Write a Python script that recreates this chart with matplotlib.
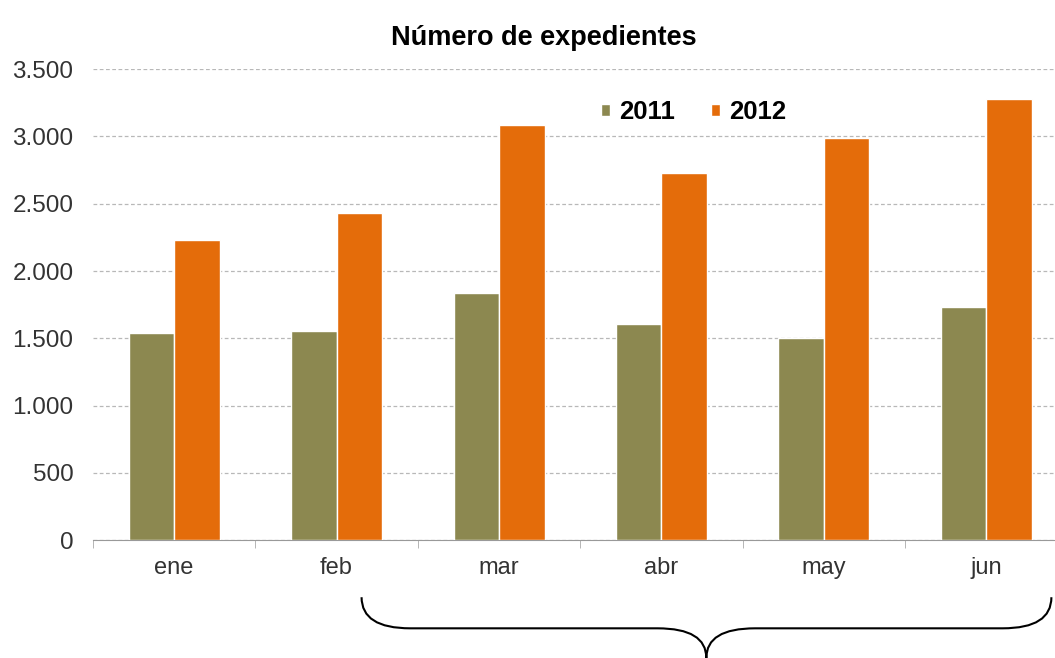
import matplotlib
matplotlib.use("Agg")
import matplotlib.pyplot as plt
import numpy as np
from matplotlib.path import Path
from matplotlib.patches import PathPatch
from matplotlib.transforms import blended_transform_factory
from matplotlib.ticker import FuncFormatter

meses = ["ene", "feb", "mar", "abr", "may", "jun"]
exp_2011 = [1540, 1555, 1835, 1605, 1500, 1730]
exp_2012 = [2230, 2430, 3085, 2730, 2990, 3280]

col_2011 = "#8C8850"
col_2012 = "#E46C0A"

plt.rcParams["font.family"] = ["Liberation Sans", "DejaVu Sans"]

fig = plt.figure(figsize=(10.55, 6.58), dpi=100)
# the original chart is cut off at the right edge, so the axes run past the figure
ax = fig.add_axes([0.088, 0.179, 0.924, 0.716])

x = np.arange(len(meses))
w = 0.28
ax.bar(x - w / 2, exp_2011, w, color=col_2011, edgecolor="white", linewidth=1.0, label="2011", zorder=3)
ax.bar(x + w / 2, exp_2012, w, color=col_2012, edgecolor="white", linewidth=1.0, label="2012", zorder=3)

ax.set_xlim(-0.5, len(meses) - 0.5)
ax.set_ylim(0, 3500)
ax.set_yticks(np.arange(0, 3501, 500))
ax.yaxis.set_major_formatter(FuncFormatter(lambda v, p: "{:,.0f}".format(v).replace(",", ".")))
ax.grid(axis="y", linestyle=(0, (3, 2)), color="#b8b8b8", linewidth=0.9, zorder=0)

ax.set_xticks(x)
ax.set_xticklabels(meses)
ax.set_xticks(np.arange(-0.5, len(meses)), minor=True)
ax.tick_params(axis="x", which="major", length=0, pad=12, labelsize=17, colors="#333333")
ax.tick_params(axis="x", which="minor", length=6, color="#aaaaaa")
ax.tick_params(axis="y", length=0, pad=14, labelsize=17.5, colors="#333333")

for s in ["top", "right", "left"]:
    ax.spines[s].set_visible(False)
ax.spines["bottom"].set_color("#999999")

ax.set_title("Número de expedientes", fontsize=19.5, fontweight="bold", pad=17, x=0.463)

leg = ax.legend(loc="center", bbox_to_anchor=(0.616, 0.909), ncol=2, frameon=False,
                prop={"weight": "bold", "size": 18.5}, handlelength=0.35, handleheight=0.35,
                handletextpad=0.35, columnspacing=1.4)

# curly brace under mar..jun
tr = blended_transform_factory(ax.transData, ax.transAxes)
x0, xm, x1 = 1.154, 3.276, 5.40
y0, yh, yt = -0.121, -0.187, -0.25
r = 0.3
verts = [
    (x0, y0), (x0, yh), (x0 + r, yh),
    (xm - r, yh),
    (xm, yh), (xm, yt),
    (xm, yh), (xm + r, yh),
    (x1 - r, yh),
    (x1, yh), (x1, y0),
]
codes = [Path.MOVETO, Path.CURVE3, Path.CURVE3,
         Path.LINETO,
         Path.CURVE3, Path.CURVE3,
         Path.CURVE3, Path.CURVE3,
         Path.LINETO,
         Path.CURVE3, Path.CURVE3]
brace = PathPatch(Path(verts, codes), transform=tr, fill=False, edgecolor="black",
                  linewidth=1.5, clip_on=False)
ax.add_patch(brace)

fig.savefig("out.png", dpi=100)
